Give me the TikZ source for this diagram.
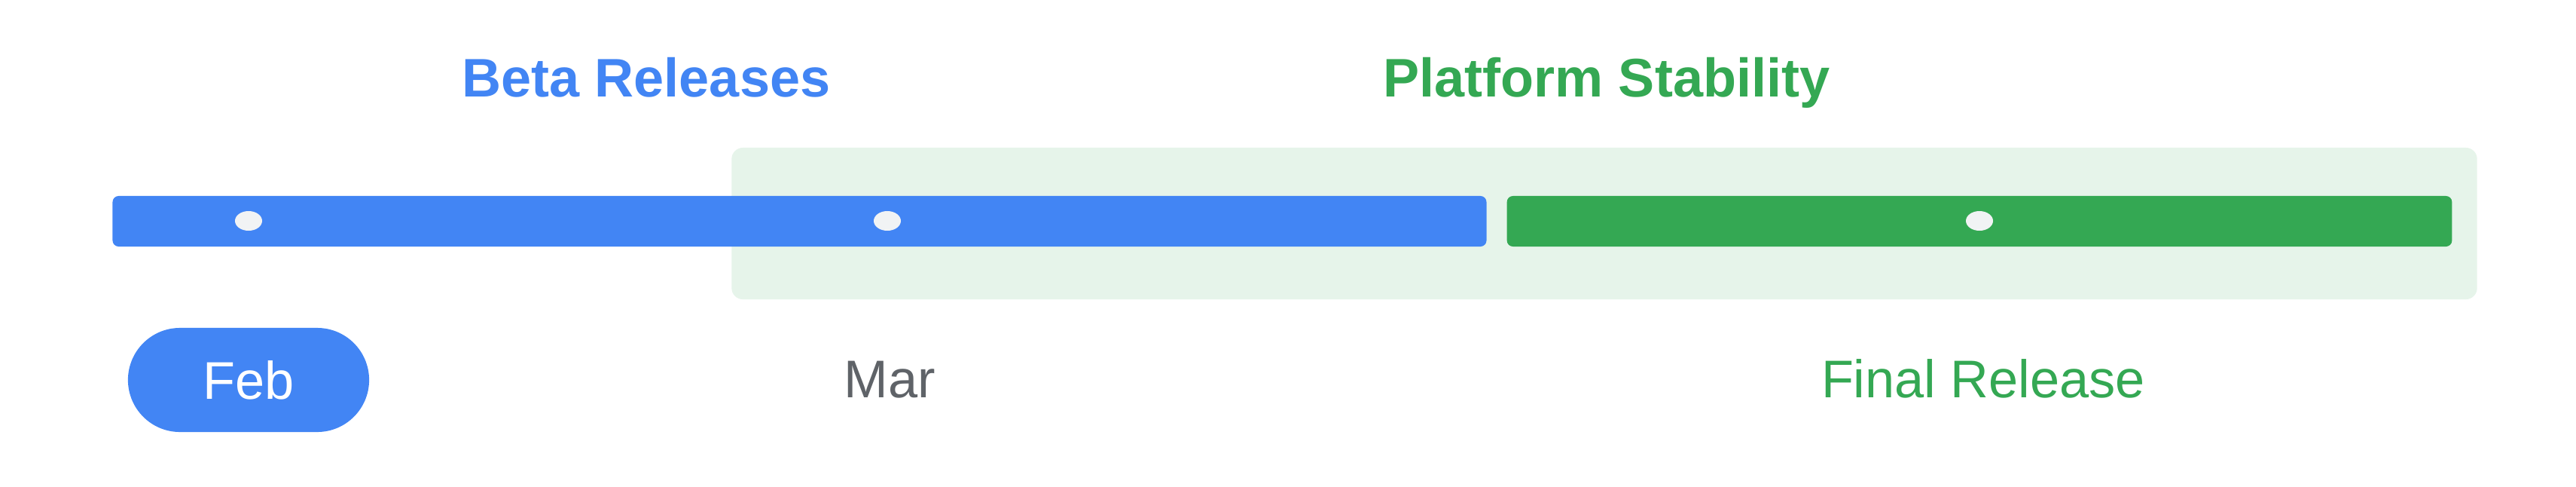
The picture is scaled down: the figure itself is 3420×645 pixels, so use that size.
\documentclass[tikz,border=0pt]{standalone}
\usepackage{fontspec}
\setmainfont{Liberation Sans}
\usetikzlibrary{shapes.geometric}

\definecolor{gblue}{HTML}{4285F4}
\definecolor{ggreen}{HTML}{34A853}
\definecolor{gpale}{HTML}{E6F4EA}
\definecolor{ggrey}{HTML}{5F6368}
\definecolor{gdot}{HTML}{F1F3F4}

\tikzstyle{band}=[shape=rectangle,fill=gpale,rounded corners=0.15cm,inner sep=0pt]
\tikzstyle{bar}=[shape=rectangle,rounded corners=0.08cm,inner sep=0pt,minimum height=0.67cm]
\tikzstyle{dot}=[shape=ellipse,fill=gdot,inner sep=0pt,minimum width=0.36cm,minimum height=0.26cm]
\tikzstyle{heading}=[anchor=base,inner sep=0pt,font=\fontsize{20.5}{24}\selectfont\bfseries]
\tikzstyle{month}=[anchor=base,inner sep=0pt,font=\fontsize{20}{24}\selectfont]
\tikzstyle{pill}=[shape=rectangle,fill=gblue,text=white,rounded corners=0.69cm,inner sep=0pt,
    minimum width=3.2cm,minimum height=1.38cm,font=\fontsize{20}{24}\selectfont]

\begin{document}
\begin{tikzpicture}[x=0.01cm,y=-0.01cm]
        \useasboundingbox[fill=white] (0,0) rectangle (3420,645);
        % stability band
        \node[band,minimum width=23.16cm,minimum height=2.01cm] (stable) at (2130,296.5) {};
        % bars
        \node[bar,fill=gblue,minimum width=18.23cm] (beta) at (1061.5,293.5) {};
        \node[bar,fill=ggreen,minimum width=12.54cm] (final) at (2628,293.5) {};
        % milestones
        \node[dot] (d0) at (330,293) {};
        \node[dot] (d1) at (1178,293) {};
        \node[dot] (d2) at (2628,293) {};
        % headings
        \node[heading,text=gblue] (hbeta) at (858,128) {Beta Releases};
        \node[heading,text=ggreen] (hstable) at (2133,128) {Platform Stability};
        % months
        \node[pill] (feb) at (330,504) {Feb};
        \node[month,text=ggrey] (mar) at (1181,527) {Mar};
        \node[month,text=ggreen] (rel) at (2633,527) {Final Release};
    \end{tikzpicture}
\end{document}
